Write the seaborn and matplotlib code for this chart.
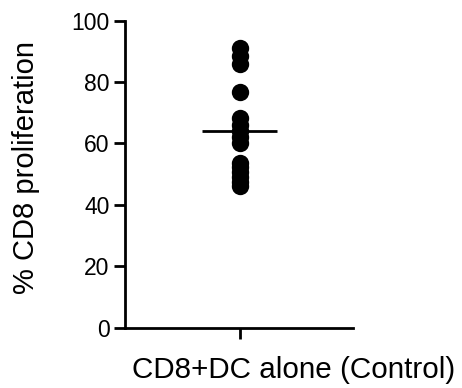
import pandas as pd
import matplotlib
matplotlib.use("Agg")
import matplotlib.pyplot as plt
import seaborn as sns
import numpy as np

# 數據
group_name = "CD8+DC alone (Control)"
proliferation = [91.0, 88.5, 86.0, 76.8,
                 68.2, 66.0, 64.0, 62.0, 60.1,
                 53.8, 52.2, 50.6, 49.2, 47.6, 46.0]
y_ticks = [0, 20, 40, 60, 80, 100]

df = pd.DataFrame({"group": [group_name] * len(proliferation),
                   "value": proliferation})

sns.set_theme(style="ticks")
plt.rcParams["font.family"] = ["Liberation Sans", "DejaVu Sans"]

fig = plt.figure(figsize=(4.62, 3.88), dpi=100)
ax = fig.add_axes([125 / 462, 1 - 327.7 / 388, 228 / 462, 307 / 388])

sns.stripplot(data=df, x="group", y="value", jitter=False, color="black",
              size=12.5, linewidth=0, ax=ax, zorder=3)

# 平均線
mean_val = float(np.mean(proliferation))
ax.hlines(mean_val, -0.33, 0.33, color="black", linewidth=2, zorder=4)

ax.set_xlim(-1.01, 1.0)
ax.set_ylim(0, 100)
ax.set_yticks(y_ticks)
ax.set_yticklabels([str(t) for t in y_ticks], fontsize=16.5)
ax.set_xticks([0])
ax.set_xticklabels([""])

for side in ["top", "right"]:
    ax.spines[side].set_visible(False)
for side in ["left", "bottom"]:
    ax.spines[side].set_linewidth(2)
    ax.spines[side].set_color("black")
    ax.spines[side].set_zorder(5)
ax.tick_params(axis="both", direction="out", length=8, width=2, color="black",
               labelcolor="black", pad=3)

ax.set_xlabel(group_name, fontsize=21.3, color="black")
ax.xaxis.set_label_coords((294 - 125) / 228, -(370 - 327.7) / 307)
ax.xaxis.label.set_va("center")
ax.set_ylabel("% CD8 proliferation", fontsize=21, color="black")
ax.yaxis.set_label_coords(-(125 - 26) / 228, (327.7 - 168) / 307)
ax.yaxis.label.set_va("center")

fig.savefig("out.png", dpi=100, facecolor="white")
plt.close(fig)
